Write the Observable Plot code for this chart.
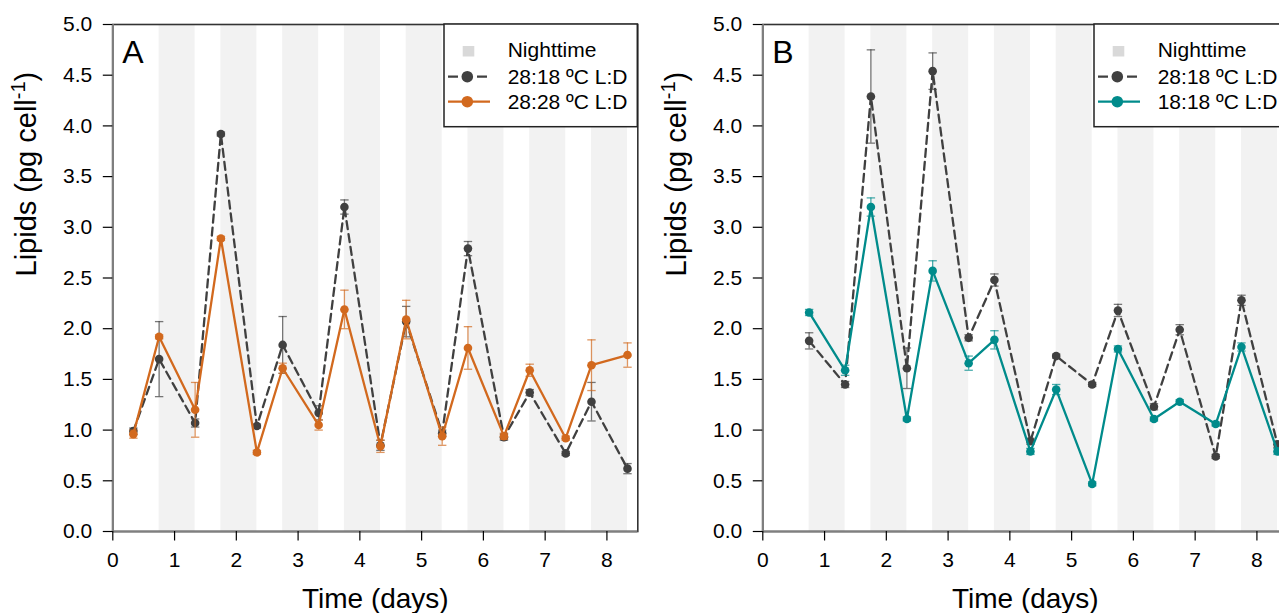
<!DOCTYPE html>
<html>
<head>
<meta charset="utf-8">
<script src="https://cdn.jsdelivr.net/npm/d3@7"></script>
<script src="https://cdn.jsdelivr.net/npm/@observablehq/plot@0.6"></script>
<style>
  html, body { margin: 0; padding: 0; background: #fff; }
  body { width: 1279px; height: 613px; overflow: hidden; position: relative; font-family: "Liberation Sans", Arial, sans-serif; }
  .panel { position: absolute; top: 0; width: 640px; height: 613px; }
  .legend { position: absolute; left: 443px; top: 23px; }
</style>
</head>
<body>
<div id="panelA" class="panel" style="left:0px"></div>
<div id="panelB" class="panel" style="left:650px"></div>
<script>
// ---------------- data ----------------
const timesA = [0.333, 0.75, 1.333, 1.75, 2.333, 2.75, 3.333, 3.75, 4.333, 4.75, 5.333, 5.75, 6.333, 6.75, 7.333, 7.75, 8.333];
const timesB = [0.75, 1.333, 1.75, 2.333, 2.75, 3.333, 3.75, 4.333, 4.75, 5.333, 5.75, 6.333, 6.75, 7.333, 7.75, 8.333];

// Panel A
const a_28_18 = [0.99, 1.70, 1.07, 3.92, 1.04, 1.84, 1.17, 3.20, 0.85, 2.07, 0.97, 2.79, 0.93, 1.37, 0.77, 1.28, 0.62];
const a_28_18_se = [0.03, 0.37, 0.04, 0.02, 0.02, 0.28, 0.07, 0.07, 0.05, 0.15, 0.03, 0.07, 0.03, 0.03, 0.02, 0.19, 0.05];
const a_28_28 = [0.96, 1.92, 1.20, 2.89, 0.78, 1.61, 1.05, 2.19, 0.84, 2.09, 0.94, 1.81, 0.94, 1.59, 0.92, 1.64, 1.74];
const a_28_28_se = [0.04, 0.02, 0.27, 0.02, 0.02, 0.05, 0.05, 0.19, 0.06, 0.19, 0.09, 0.21, 0.03, 0.06, 0.02, 0.25, 0.12];

// Panel B
const b_28_18 = [1.88, 1.45, 4.29, 1.61, 4.54, 1.91, 2.48, 0.89, 1.73, 1.45, 2.18, 1.23, 1.99, 0.74, 2.28, 0.86];
const b_28_18_se = [0.08, 0.03, 0.46, 0.20, 0.18, 0.03, 0.06, 0.03, 0.02, 0.02, 0.06, 0.03, 0.05, 0.02, 0.05, 0.03];
const b_18_18 = [2.16, 1.59, 3.20, 1.11, 2.57, 1.66, 1.89, 0.79, 1.40, 0.47, 1.80, 1.11, 1.28, 1.06, 1.82, 0.79];
const b_18_18_se = [0.03, 0.05, 0.09, 0.02, 0.10, 0.07, 0.09, 0.03, 0.05, 0.02, 0.03, 0.02, 0.02, 0.02, 0.04, 0.03];

// Nighttime (dark period) intervals, days
const nightStart = [0.75, 1.75, 2.75, 3.75, 4.75, 5.75, 6.75, 7.75];
const nightEnd   = [1.333, 2.333, 3.333, 4.333, 5.333, 6.333, 7.333, 8.333];

// Ticks and labels
const xTicks = [0, 1, 2, 3, 4, 5, 6, 7, 8];
const yTicks = [0, 0.5, 1, 1.5, 2, 2.5, 3, 3.5, 4, 4.5, 5];
const xLabel = "Time (days)";
const yLabel = "Lipids (pg cell-1)";
const legendA = ["Nighttime", "28:18 ºC L:D", "28:28 ºC L:D"];
const legendB = ["Nighttime", "28:18 ºC L:D", "18:18 ºC L:D"];

// ---------------- styles ----------------
const GRAY = "#404040", ORANGE = "#d2691e", TEAL = "#008b8b", NIGHT = "#f2f2f2";
const DASH = "8,5";
const FONT = "'Liberation Sans', Arial, sans-serif";

const capSymbol = {
  draw(ctx, size) {
    const h = Math.sqrt(size / Math.PI);
    ctx.moveTo(-h, 0); ctx.lineTo(h, 0);
  }
};

function rows(times, vals, se) {
  return times.map((t, i) => ({t, v: vals[i], se: se[i]}));
}

function seriesMarks(data, color, dash) {
  const caps = data.flatMap(d => [{t: d.t, y: d.v + d.se}, {t: d.t, y: d.v - d.se}]);
  return [
    Plot.ruleX(data, {x: "t", y1: d => d.v - d.se, y2: d => d.v + d.se, stroke: color, strokeOpacity: 0.7, strokeWidth: 1.3}),
    Plot.dot(caps, {x: "t", y: "y", symbol: capSymbol, r: 4.2, stroke: color, strokeOpacity: 0.7, strokeWidth: 1.3, fill: "none"}),
    Plot.line(data, {x: "t", y: "v", stroke: color, strokeWidth: 2.3, strokeDasharray: dash}),
    Plot.dot(data, {x: "t", y: "v", r: 4.3, fill: color, stroke: "none"})
  ];
}

function makePanel(letter, series) {
  const nights = nightStart.map((s, i) => ({s, e: nightEnd[i]}));
  const svg = Plot.plot({
    width: 640, height: 613,
    marginLeft: 112.3, marginRight: 2.7, marginTop: 24, marginBottom: 82,
    x: {domain: [0, 8.5]},
    y: {domain: [0, 5]},
    style: {fontFamily: FONT, background: "transparent", color: "black", overflow: "visible"},
    marks: [
      Plot.rect(nights, {x1: "s", x2: "e", fill: NIGHT}),
      ...series.flatMap(s => seriesMarks(s.data, s.color, s.dash)),
      Plot.frame({stroke: "#333", strokeWidth: 1.6}),
      Plot.ruleX([0], {stroke: "#7f7f7f", strokeWidth: 2.2}),
      Plot.ruleY([0], {stroke: "#7f7f7f", strokeWidth: 2.2}),
      Plot.axisX({ticks: xTicks, tickSize: 9.5, tickPadding: 11.5, fontSize: 21, tickFormat: d => String(d), label: null, strokeWidth: 1.2}),
      Plot.axisY({ticks: yTicks, tickSize: 9.5, tickPadding: 11, fontSize: 21, tickFormat: d3.format(".1f"), label: null, strokeWidth: 1.2}),
      Plot.text([letter], {frameAnchor: "top-left", text: d => d, dx: 9.5, dy: 16, fontSize: 32, textAnchor: "start", lineAnchor: "top", fill: "black"}),
      Plot.text([xLabel], {frameAnchor: "bottom", text: d => d, dy: 76.5, fontSize: 28, fill: "black"}),
      Plot.text([yLabel], {frameAnchor: "left", text: d => d, rotate: -90, dx: -86, dy: -1.5, fontSize: 29, fill: "black"})
    ]
  });
  // superscript for the y label
  d3.select(svg).selectAll("text").filter(function() { return this.textContent === yLabel; }).each(function() {
    const t = d3.select(this);
    t.text(null);
    t.append("tspan").text("Lipids (pg cell");
    t.append("tspan").attr("dy", -11).attr("font-size", 20).text("-1");
    t.append("tspan").attr("dy", 11).text(")");
  });
  return svg;
}

function makeLegend(labels, color) {
  const W = 196, H = 105;
  const svg = d3.create("svg").attr("class", "legend").attr("width", W).attr("height", H)
    .style("font-family", FONT);
  svg.append("rect").attr("x", 1).attr("y", 1).attr("width", 193.3).attr("height", 102.7)
    .attr("fill", "white").attr("stroke", "#222").attr("stroke-width", 1.5);
  const tx = 64.7;
  // Nighttime
  svg.append("rect").attr("x", 19.7).attr("y", 23).attr("width", 11.6).attr("height", 10.5).attr("fill", "#d9d9d9");
  svg.append("text").attr("x", tx).attr("y", 34).attr("font-size", 21).text(labels[0]);
  // 28:18 dashed
  const y2 = 53.7, y3 = 78.7;
  svg.append("line").attr("x1", 5).attr("x2", 44).attr("y1", y2).attr("y2", y2)
    .attr("stroke", GRAY).attr("stroke-width", 2.2).attr("stroke-dasharray", "10,19");
  svg.append("circle").attr("cx", 24.3).attr("cy", y2).attr("r", 5.8).attr("fill", GRAY);
  svg.append("text").attr("x", tx).attr("y", 61.3).attr("font-size", 21).text(labels[1]);
  // treatment solid
  svg.append("line").attr("x1", 5).attr("x2", 47).attr("y1", y3).attr("y2", y3)
    .attr("stroke", color).attr("stroke-width", 2.2);
  svg.append("circle").attr("cx", 24.3).attr("cy", y3).attr("r", 5.8).attr("fill", color);
  svg.append("text").attr("x", tx).attr("y", 86.3).attr("font-size", 21).text(labels[2]);
  return svg.node();
}

const pA = makePanel("A", [
  {data: rows(timesA, a_28_18, a_28_18_se), color: GRAY, dash: DASH},
  {data: rows(timesA, a_28_28, a_28_28_se), color: ORANGE, dash: null}
]);
const pB = makePanel("B", [
  {data: rows(timesB, b_28_18, b_28_18_se), color: GRAY, dash: DASH},
  {data: rows(timesB, b_18_18, b_18_18_se), color: TEAL, dash: null}
]);
document.getElementById("panelA").append(pA, makeLegend(legendA, ORANGE));
document.getElementById("panelB").append(pB, makeLegend(legendB, TEAL));
</script>
</body>
</html>
